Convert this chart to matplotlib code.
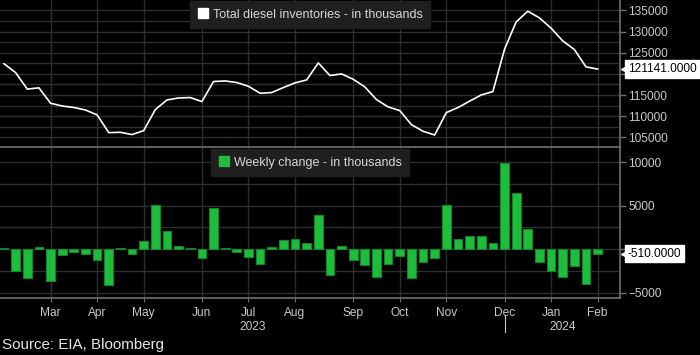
import math
import matplotlib
matplotlib.use("Agg")
import matplotlib.pyplot as plt
from matplotlib.lines import Line2D

# weekly distillate stocks (thousand barrels), Feb 2023 - Feb 2024
inventory = [
    122400, 120300, 116400, 116700, 113050, 112400, 112050, 111450, 110300, 106100,
    106180, 105640, 106580, 111560, 113830, 114300, 114400, 113450, 118190, 118330,
    117950, 117070, 115420, 115580, 116770, 117860, 118570, 122590, 119610, 119990,
    118730, 116910, 113920, 112180, 111320, 108000, 106420, 105540, 110850, 112030,
    113550, 115010, 115820, 125840, 132300, 134830, 133250, 130810, 127800, 125770,
    121651, 121141,
]
weekly_change = [
    150, -2560, -3320, 230, -3660, -650, -380, -610, -1260, -4160,
    110, -610, 950, 5040, 2060, 380, 150, -1070, 4750, 150,
    -300, -850, -1700, 250, 1000, 1180, 690, 3950, -2950, 380,
    -1300, -1870, -3240, -1720, -800, -3320, -1490, -1070, 5110, 1220,
    1490, 1490, 690, 9920, 6450, 2330, -1490, -2560, -3240, -1950,
    -4050, -510,
]
month_idx = [4, 8, 12, 17, 21, 25, 30, 34, 38, 43, 47, 51]
month_lbl = ["Mar", "Apr", "May", "Jun", "Jul", "Aug", "Sep", "Oct", "Nov", "Dec", "Jan", "Feb"]
year_split = 43   # first week shown under 2024

BG = "#000000"
GRID = "#2e2e2e"
SPINE = "#707070"
TXT = "#c8c8c8"
GREEN = "#1ebd3c"
GREEN_EDGE = "#10852a"
LEG_BG = "#1f1f1f"

plt.rcParams["font.family"] = ["Liberation Sans", "DejaVu Sans"]

fig = plt.figure(figsize=(7, 3.55), dpi=100)
fig.patch.set_facecolor(BG)
ax1 = fig.add_axes([0, 1 - 147 / 355, 620 / 700, 147 / 355])
ax2 = fig.add_axes([0, 1 - 297.5 / 355, 620 / 700, 149.5 / 355])

x = list(range(len(inventory)))
xlim = (-0.344, 52.92)


def style(ax, major, step, ylim):
    ax.set_facecolor(BG)
    lo = math.ceil(ylim[0] / step) * step
    minor = list(range(lo, int(ylim[1]) + 1, step))
    ax.yaxis.tick_right()
    ax.set_yticks(major)
    ax.set_yticks(minor, minor=True)
    ax.set_xticks(month_idx)
    ax.set_xlim(*xlim)
    ax.set_ylim(*ylim)
    for s in ["left", "top"]:
        ax.spines[s].set_visible(False)
    for s in ["right", "bottom"]:
        ax.spines[s].set_color(SPINE)
        ax.spines[s].set_linewidth(1.2)
    ax.tick_params(axis="y", which="major", colors=SPINE, labelcolor=TXT, labelsize=8.6,
                   length=4, width=1, pad=2)
    ax.tick_params(axis="y", which="minor", length=0)
    ax.grid(True, which="both", axis="y", color=GRID, linewidth=1, zorder=0)
    ax.grid(True, which="major", axis="x", color=GRID, linewidth=1, zorder=0)
    ax.set_axisbelow(True)


style(ax1, [105000, 110000, 115000, 120000, 125000, 130000, 135000], 2500, (102700, 137480))
style(ax2, [-5000, 0, 5000, 10000], 2500, (-5570, 11650))

ax1.plot(x, inventory, color="white", linewidth=1.2, zorder=3)
ax2.bar(x, weekly_change, width=0.75, color=GREEN, edgecolor=GREEN_EDGE, linewidth=0.8, zorder=3)
ax1.set_xlim(*xlim); ax2.set_xlim(*xlim)

ax1.tick_params(axis="x", length=0, labelbottom=False)
ax2.set_xticklabels(month_lbl)
ax2.tick_params(axis="x", colors=SPINE, labelcolor=TXT, labelsize=8.6, length=3, pad=4)

# year labels under the month ticks
ax2.text((xlim[0] + year_split) / 2, -0.2, "2023", transform=ax2.get_xaxis_transform(),
         ha="center", va="center", color=TXT, fontsize=8.6)
ax2.text((xlim[1] + year_split) / 2, -0.2, "2024", transform=ax2.get_xaxis_transform(),
         ha="center", va="center", color=TXT, fontsize=8.6)
ax2.plot([year_split, year_split], [-0.117, -0.23], transform=ax2.get_xaxis_transform(),
         color=TXT, linewidth=0.8, clip_on=False)

# legends
h1 = [Line2D([], [], marker="s", linestyle="none", color="white", markersize=7)]
h2 = [Line2D([], [], marker="s", linestyle="none", color=GREEN, markersize=7)]
for ax, h, lbl in [(ax1, h1, "Total diesel inventories - in thousands"),
                   (ax2, h2, "Weekly change - in thousands")]:
    ax.legend(h, [lbl], loc="upper center", frameon=True, fancybox=False,
              facecolor=LEG_BG, edgecolor=LEG_BG, framealpha=1, fontsize=9,
              labelcolor="#d8d8d8", handlelength=0.8, handletextpad=0.4,
              borderaxespad=0.1, borderpad=0.6)

# last value tags
for ax, val in [(ax1, inventory[-1]), (ax2, weekly_change[-1])]:
    tr = ax.get_yaxis_transform()
    ax.plot([1.0125], [val], marker="<", color="white", markersize=10.5, transform=tr,
            clip_on=False, zorder=5)
    ax.annotate(f"{val:.4f}", xy=(1.0, val), xycoords=tr, xytext=(8, 0),
                textcoords="offset pixels", ha="left", va="center", fontsize=8.6,
                color="black", annotation_clip=False, zorder=6,
                bbox=dict(boxstyle="square,pad=0.22", fc="white", ec="white"))

fig.text(0.003, 0.027, "Source: EIA, Bloomberg", color="#e6e6e6", fontsize=10.9,
         ha="left", va="center")

fig.savefig("out.png", dpi=100, facecolor=BG)
